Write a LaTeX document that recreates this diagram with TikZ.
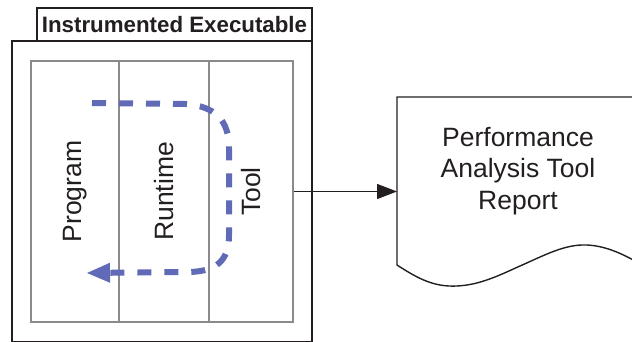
\documentclass[tikz,border=0pt]{standalone}
\usepackage{fontspec}
\setmainfont{Liberation Sans}
\usetikzlibrary{arrows.meta}
\definecolor{ink}{RGB}{35,31,32}
\definecolor{rule}{RGB}{138,138,138}
\definecolor{flowblue}{RGB}{96,106,182}
\begin{document}
\begin{tikzpicture}[x=0.5pt, y=-0.5pt,
  frame/.style={draw=ink, line width=1pt, fill=white, inner sep=0pt},
  lane/.style={draw=rule, line width=0.75pt, inner sep=0pt, minimum height=130.5pt},
  lanelabel/.style={rotate=90, text=ink, inner sep=0pt, font=\fontsize{13.25}{15.75}\selectfont},
  flow/.style={draw=flowblue, line width=3pt, dash pattern=on 7pt off 6.5pt,
    -{Triangle[length=12pt, width=9pt]}},
  link/.style={draw=ink, line width=0.7pt, -{Triangle[length=10pt, width=7.5pt]}}]
\useasboundingbox (0,0) rectangle (632,342);
\clip (0,0) rectangle (632,342);

% executable frame with its caption tab
\node[frame, minimum width=150pt, minimum height=150.5pt] (outer) at (162,191.5) {};
\node[frame, minimum width=137.5pt, minimum height=16.5pt,
      font=\fontsize{11.15}{13}\selectfont\bfseries, text=ink] (title) at (174.5,24.5)
      {Instrumented Executable};

% the three layers
\node[lane, minimum width=44pt] (prog) at (75,191.5) {};
\node[lane, minimum width=45pt] (rt) at (164,191.5) {};
\node[lane, minimum width=42pt] (tool) at (251,191.5) {};
\node[draw=rule, line width=0.75pt, inner sep=0pt, minimum width=131pt,
      minimum height=130.5pt] (inner) at (162,191.5) {};

\node[lanelabel] (progtxt) at (prog.center) {Program};
\node[lanelabel] (rttxt) at (rt.center) {Runtime};
\node[lanelabel] (tooltxt) at (tool.center) {Tool};

% control flow through the layers
\draw[flow] (92,103) -- (185,104) .. controls (215,106) and (229,120) .. (229,148)
  -- (229,235) .. controls (229,262) and (215,271) .. (190,272) -- (86,273);

% report document with wavy bottom
\draw[draw=ink, line width=0.7pt, fill=white]
  (397,97) -- (397,265)
  .. controls (420,280) and (435,287) .. (457,286)
  .. controls (480,285) and (500,275) .. (520,266)
  .. controls (545,255) and (565,244) .. (587,245)
  .. controls (608,246) and (628,256) .. (650,270)
  -- (650,97) -- cycle;
\coordinate (doc) at (397,191.5);
\node[align=center, text=ink, font=\fontsize{13.25}{15.75}\selectfont] (report) at (518,171)
  {Performance\\Analysis Tool\\Report};

\draw[link] (inner.east) -- (doc);
\end{tikzpicture}
\end{document}
